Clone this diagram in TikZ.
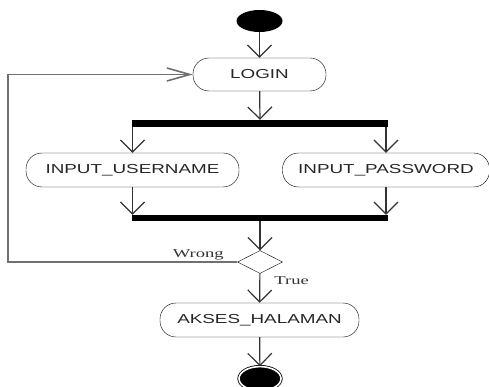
\documentclass[tikz,border=0pt]{standalone}
\usepackage{fontspec}
\newfontfamily\actfont[FakeStretch=1.45]{Liberation Sans}
\newfontfamily\guardfont[FakeStretch=1.55]{Liberation Serif}
\usetikzlibrary{shapes.geometric,arrows.meta}
\definecolor{flowgray}{HTML}{333333}
\definecolor{loopgray}{HTML}{707070}
\tikzset{act/.style={rectangle,draw,rounded corners=16pt,minimum height=33pt,inner sep=0pt,font=\actfont\fontsize{13}{15}\selectfont,text=black!85},
  bar/.style={rectangle,fill=black,minimum width=256pt,minimum height=7pt,inner sep=0pt},
  dec/.style={diamond,draw,minimum width=45pt,minimum height=23pt,inner sep=0pt},
  startnode/.style={ellipse,fill=black,minimum width=46pt,minimum height=22pt,inner sep=0pt},
  endnode/.style={ellipse,draw,fill=black,double=white,line width=0.8pt,double distance=1.6pt,minimum width=42pt,minimum height=24pt,inner sep=0pt},
  flow/.style={draw=flowgray,line width=1.2pt,-{Straight Barb[length=12pt,width=24pt]}},
  guardlabel/.style={font=\guardfont\fontsize{12}{14}\selectfont,text=black!80,inner sep=1pt}}

\begin{document}
\begin{tikzpicture}[x=1pt,y=-1pt]
        \useasboundingbox (0,0) rectangle (489,387);

        \node[startnode] (start) at (259.5,21) {};
        \node[act,minimum width=133pt] (login) at (259.5,74.5) {LOGIN};
        \node[bar] (fork) at (260,123.5) {};
        \node[act,minimum width=213pt,minimum height=34pt] (user) at (132.5,170) {INPUT\_USERNAME};
        \node[act,minimum width=207pt,minimum height=34pt] (pass) at (386,170) {INPUT\_PASSWORD};
        \node[bar,minimum height=6pt] (join) at (260,218) {};
        \node[dec] (guard) at (260,262) {};
        \node[act,minimum width=199pt,minimum height=34pt] (akses) at (259.5,320) {AKSES\_HALAMAN};
        \node[endnode] (finish) at (260,378.6) {};
        \coordinate (back) at (8,262);

        \draw [flow] (start) -- (login);
        \draw [flow] (login) -- (fork);
        \draw [flow] (user |- fork.south) -- (user);
        \draw [flow] (pass |- fork.south) -- (pass);
        \draw [flow] (user) -- (user |- join.north);
        \draw [flow] (pass) -- (pass |- join.north);
        \draw [flow] (join) -- (guard);
        \draw [flow] (guard) -- node[guardlabel,right=13pt,pos=0.25]{True} (akses);
        \draw [flow] (akses) -- (finish);
        \draw [draw=loopgray,line width=1.6pt,-{Straight Barb[length=23pt,width=13pt]}]
              (guard.west) -- node[guardlabel,above=0pt,pos=0.17]{Wrong} (back) |- (login.west);
    \end{tikzpicture}
\end{document}
